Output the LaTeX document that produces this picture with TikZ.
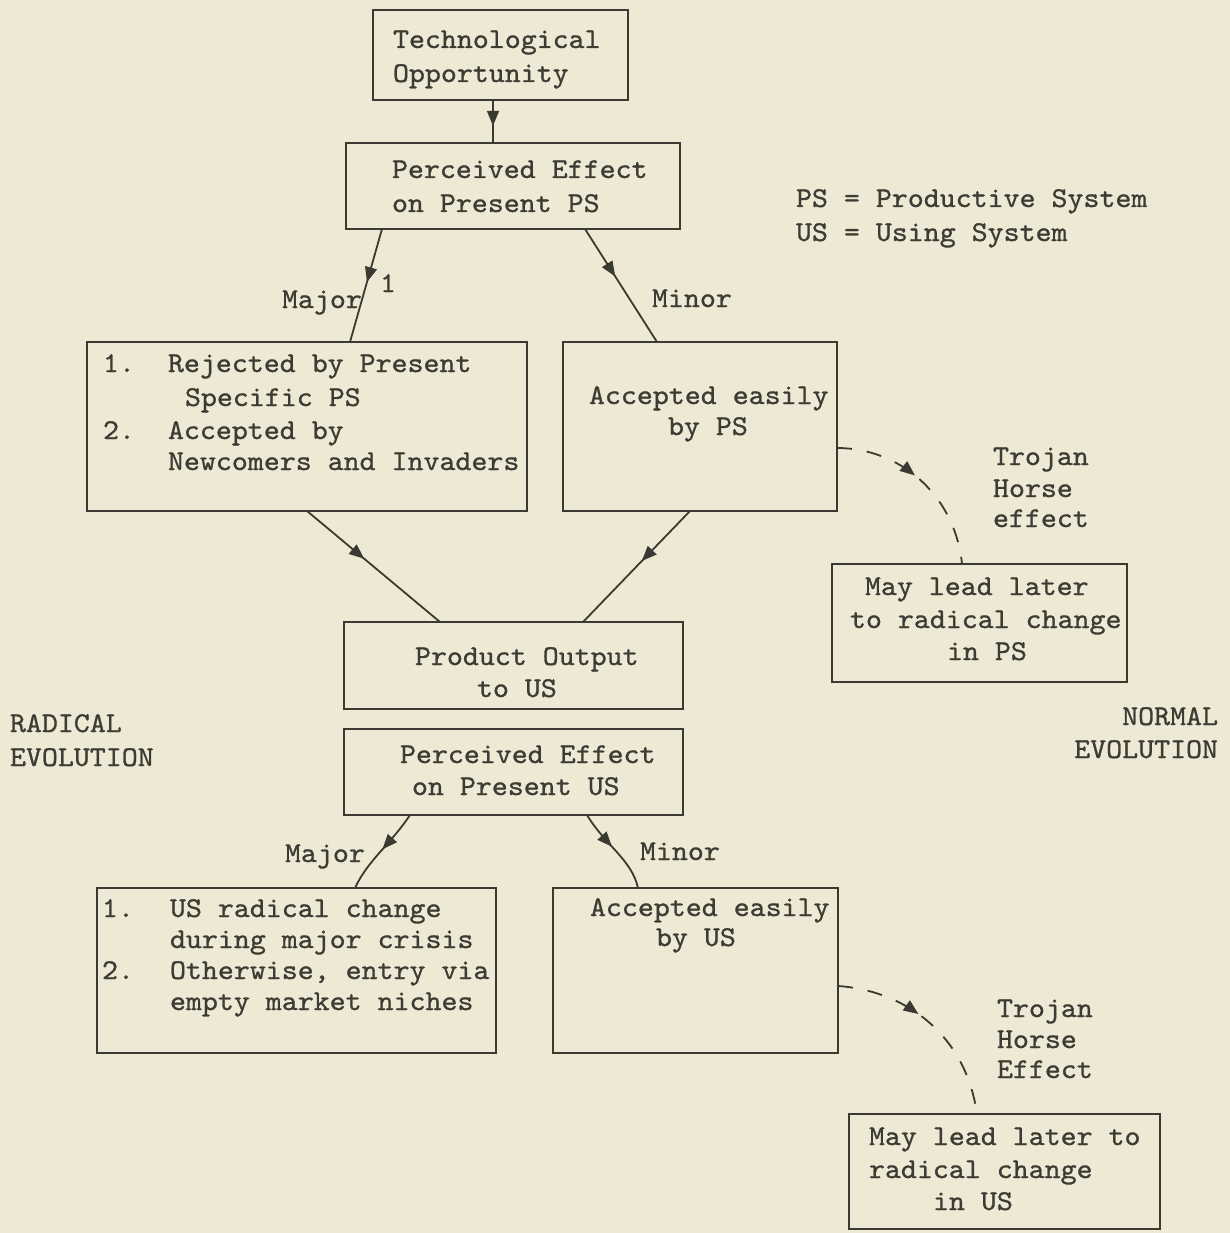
\documentclass[tikz,border=0pt]{standalone}
\usepackage{fontspec}
\newfontfamily\monofnt{lmmono10-regular.otf}[FakeBold=0.9,FakeStretch=1.06]
\usetikzlibrary{arrows.meta,decorations.markings}
\definecolor{bgcol}{RGB}{237,233,212}
\definecolor{inkcol}{RGB}{58,58,50}
\definecolor{txtcol}{RGB}{60,60,52}
\tikzset{
 box/.style={draw=inkcol, line width=1.8pt, inner sep=0pt, outer sep=0pt},
 txt/.style={inner sep=0pt, outer sep=0pt, text=txtcol, font=\monofnt\fontsize{28.7pt}{32pt}\selectfont, anchor=base west},
 txtr/.style={txt, anchor=base east},
 conn/.style={draw=inkcol, line width=1.8pt},
 dashconn/.style={conn, dash pattern=on 15pt off 15pt},
 midarrow/.style={postaction={decorate}, decoration={markings, mark=at position #1 with {\arrow[inkcol]{Triangle[length=15pt,width=12pt]}}}},
}
\begin{document}
\begin{tikzpicture}[x=1pt,y=-1pt]
\fill[bgcol] (0,0) rectangle (1230,1233);
\useasboundingbox (0,0) rectangle (1230,1233);

% boxes
\node[box, minimum width=255pt, minimum height=90pt] (b1) at (500.5,55) {};
\node[box, minimum width=334pt, minimum height=86pt] (b2) at (513,186) {};
\node[box, minimum width=440pt, minimum height=169pt] (b3) at (307,426.5) {};
\node[box, minimum width=274pt, minimum height=169pt] (b4) at (700,426.5) {};
\node[box, minimum width=295pt, minimum height=118pt] (b5) at (979.5,623) {};
\node[box, minimum width=339pt, minimum height=87pt] (b6) at (513.5,665.5) {};
\node[box, minimum width=339pt, minimum height=86pt] (b7) at (513.5,772) {};
\node[box, minimum width=399pt, minimum height=165pt] (b8) at (296.5,970.5) {};
\node[box, minimum width=285pt, minimum height=165pt] (b9) at (695.5,970.5) {};
\node[box, minimum width=311pt, minimum height=115pt] (b10) at (1004.5,1171.5) {};

% box texts
\node[txt] (t1a) at (393,48) {Technological};
\node[txt] (t1b) at (393,82) {Opportunity};
\node[txt] (t2a) at (392,178) {Perceived Effect};
\node[txt] (t2b) at (392,212) {on Present PS};
\node[txt] (t3a) at (103,372) {1.};
\node[txt] (t3b) at (168,372) {Rejected by Present};
\node[txt] (t3c) at (185,406) {Specific PS};
\node[txt] (t3d) at (103,439) {2.};
\node[txt] (t3e) at (168,439) {Accepted by};
\node[txt] (t3f) at (168,470) {Newcomers and Invaders};
\node[txt] (t4a) at (589,404) {Accepted easily};
\node[txt] (t4b) at (668,435) {by PS};
\node[txt] (t5a) at (865,595) {May lead later};
\node[txt] (t5b) at (850,628) {to radical change};
\node[txt] (t5c) at (947,660) {in PS};
\node[txt] (t6a) at (415,665) {Product Output};
\node[txt] (t6b) at (477,697) {to US};
\node[txt] (t7a) at (400,763) {Perceived Effect};
\node[txt] (t7b) at (412,795) {on Present US};
\node[txt] (t8a) at (102,917) {1.};
\node[txt] (t8b) at (170,917) {US radical change};
\node[txt] (t8c) at (170,948) {during major crisis};
\node[txt] (t8d) at (102,979) {2.};
\node[txt] (t8e) at (170,979) {Otherwise, entry via};
\node[txt] (t8f) at (170,1010) {empty market niches};
\node[txt] (t9a) at (590,916) {Accepted easily};
\node[txt] (t9b) at (656,946) {by US};
\node[txt] (t10a) at (869,1145) {May lead later to};
\node[txt] (t10b) at (869,1178) {radical change};
\node[txt] (t10c) at (933,1210) {in US};

% free labels
\node[txt] (lg1) at (796,207) {PS = Productive System};
\node[txt] (lg2) at (796,241) {US = Using System};
\node[txt] (rad1) at (10,732) {RADICAL};
\node[txt] (rad2) at (10,766) {EVOLUTION};
\node[txtr] (nor1) at (1218,725) {NORMAL};
\node[txtr] (nor2) at (1218,758) {EVOLUTION};
\node[txt] (maj1) at (282,308) {Major};
\node[txt] (one1) at (380,292) {1};
\node[txt] (min1) at (652,307) {Minor};
\node[txt] (maj2) at (285,862) {Major};
\node[txt] (min2) at (640,860) {Minor};
\node[txt] (tr1a) at (993,465) {Trojan};
\node[txt] (tr1b) at (993,497) {Horse};
\node[txt] (tr1c) at (993,527) {effect};
\node[txt] (tr2a) at (997,1017) {Trojan};
\node[txt] (tr2b) at (997,1048) {Horse};
\node[txt] (tr2c) at (997,1078) {Effect};

% connectors
\draw[conn, midarrow=0.6] ([xshift=120pt]b1.south west) -- ([xshift=147pt]b2.north west);
\draw[conn, midarrow=0.47] ([xshift=36pt]b2.south west) -- ([xshift=263pt]b3.north west);
\draw[conn, midarrow=0.42] ([xshift=239pt]b2.south west) -- ([xshift=94pt]b4.north west);
\draw[conn, midarrow=0.43] ([xshift=220pt]b3.south west) -- ([xshift=96pt]b6.north west);
\draw[conn, midarrow=0.45] ([xshift=127pt]b4.south west) -- ([xshift=239pt]b6.north west);
\draw[dashconn, midarrow=0.45] ([yshift=-106pt]b4.north east) .. controls (900,448) and (955,495) .. ([xshift=130pt]b5.north west);
\draw[conn, midarrow=0.48] ([xshift=66pt]b7.south west) .. controls (390,845) and (368,860) .. ([xshift=258pt]b8.north west);
\draw[conn, midarrow=0.45] ([xshift=243pt]b7.south west) .. controls (605,845) and (632,860) .. ([xshift=85pt]b9.north west);
\draw[dashconn, midarrow=0.42] ([yshift=-98pt]b9.north east) .. controls (900,990) and (965,1030) .. ([xshift=128pt]b10.north west);
\end{tikzpicture}
\end{document}
